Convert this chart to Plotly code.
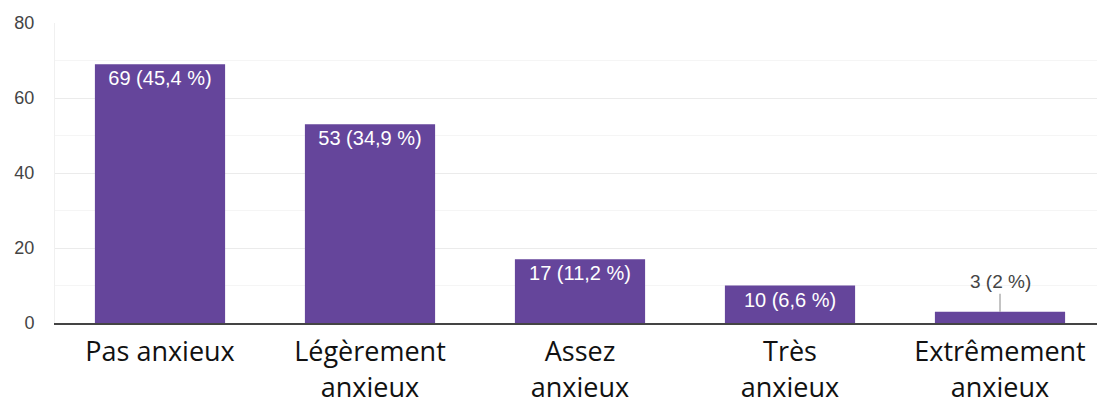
import plotly.graph_objects as go

categories = ["Pas anxieux", "Légèrement<br>anxieux", "Assez<br>anxieux", "Très<br>anxieux", "Extrêmement<br>anxieux"]
counts = [69, 53, 17, 10, 3]
labels = ["69 (45,4 %)", "53 (34,9 %)", "17 (11,2 %)", "10 (6,6 %)", "3 (2 %)"]
inside = [True, True, True, True, False]

bar_text = [l if i else "" for l, i in zip(labels, inside)]

fig = go.Figure()
fig.add_trace(go.Bar(
    x=categories, y=counts, text=bar_text, textposition="inside",
    insidetextanchor="end", textangle=0,
    textfont=dict(family="Liberation Sans, Arial", size=20, color="white"),
    marker=dict(color="#65459b", line=dict(width=0)),
    width=0.62, hoverinfo="skip",
))

for c, v, l, i in zip(categories, counts, labels, inside):
    if not i:
        fig.add_annotation(x=c, y=v, text=l, showarrow=True, arrowhead=0,
                           arrowwidth=1, arrowcolor="#888888", ax=0, ay=-18,
                           yanchor="bottom",
                           font=dict(family="Liberation Sans, Arial", size=19, color="#444444"))

# the page has an 8px body margin, so compensate
fig.update_layout(
    width=1097, height=395,
    margin=dict(l=47, r=0, t=15, b=80),
    paper_bgcolor="white", plot_bgcolor="white",
    showlegend=False,
)
fig.update_yaxes(range=[0, 80], dtick=20, showgrid=True, gridcolor="#ebebeb",
                 minor=dict(dtick=10, showgrid=True, gridcolor="#f5f5f5"),
                 tickfont=dict(family="Liberation Sans, Arial", size=18, color="#444444"),
                 zeroline=False, showline=True, linecolor="#f0f0f0", ticks="",
                 ticklabelstandoff=16, automargin=False)
fig.update_xaxes(showline=True, linecolor="#444444", linewidth=2,
                 tickfont=dict(family="Open Sans, Lato", size=27, color="#111111"),
                 ticks="", range=[-0.5, 4.5], ticklabelstandoff=4, automargin=False)

fig.write_html("out.html")
